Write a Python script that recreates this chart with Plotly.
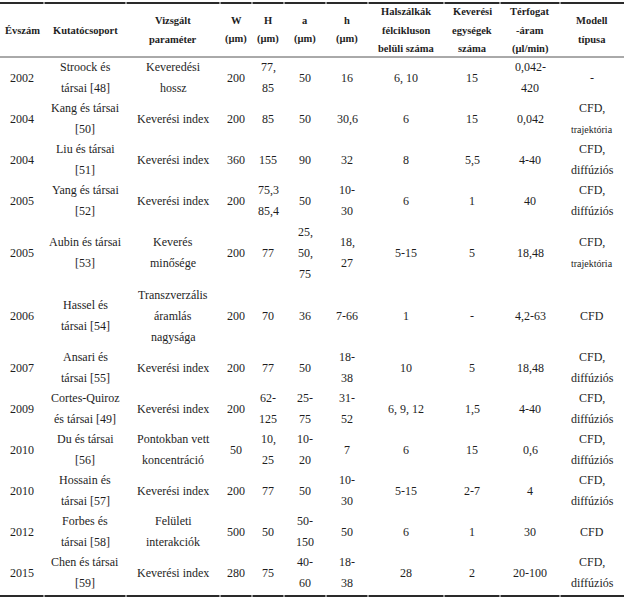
import plotly.graph_objects as go

# table content
headers = ["Évszám", "Kutatócsoport", "Vizsgált\nparaméter", "W\n(µm)", "H\n(µm)", "a\n(µm)", "h\n(µm)",
           "Halszálkák\nfélcikluson\nbelüli száma", "Keverési\negységek\nszáma", "Térfogat\n-áram\n(µl/min)",
           "Modell\ntípusa"]
years = ["2002", "2004", "2004", "2005", "2005", "2006", "2007", "2009", "2010", "2010", "2012", "2015"]
groups = ["Stroock és\ntársai [48]", "Kang és társai\n[50]", "Liu és társai\n[51]", "Yang és társai\n[52]",
          "Aubin és társai\n[53]", "Hassel és\ntársai [54]", "Ansari és\ntársai [55]", "Cortes-Quiroz\nés társai [49]",
          "Du és társai\n[56]", "Hossain és\ntársai [57]", "Forbes és\ntársai [58]", "Chen és társai\n[59]"]
params = ["Keveredési\nhossz", "Keverési index", "Keverési index", "Keverési index", "Keverés\nminősége",
          "Transzverzális\náramlás\nnagysága", "Keverési index", "Keverési index", "Pontokban vett\nkoncentráció",
          "Keverési index", "Felületi\ninterakciók", "Keverési index"]
w_vals = ["200", "200", "360", "200", "200", "200", "200", "200", "50", "200", "500", "280"]
h_big = ["77,\n85", "85", "155", "75,3\n85,4", "77", "70", "77", "62-\n125", "10,\n25", "77", "50", "75"]
a_vals = ["50", "50", "90", "50", "25,\n50,\n75", "36", "50", "25-\n75", "10-\n20", "50", "50-\n150", "40-\n60"]
h_small = ["16", "30,6", "32", "10-\n30", "18,\n27", "7-66", "18-\n38", "31-\n52", "7", "10-\n30", "50", "18-\n38"]
herringbones = ["6, 10", "6", "8", "6", "5-15", "1", "10", "6, 9, 12", "6", "5-15", "6", "28"]
mixing_units = ["15", "15", "5,5", "1", "5", "-", "5", "1,5", "15", "2-7", "1", "2"]
flow_rate = ["0,042-\n420", "0,042", "4-40", "40", "18,48", "4,2-63", "18,48", "4-40", "0,6", "4", "30", "20-100"]
model = ["-", "CFD,\ntrajektória", "CFD,\ndiffúziós", "CFD,\ndiffúziós", "CFD,\ntrajektória", "CFD",
         "CFD,\ndiffúziós", "CFD,\ndiffúziós", "CFD,\ndiffúziós", "CFD,\ndiffúziós", "CFD", "CFD,\ndiffúziós"]

columns = [years, groups, params, w_vals, h_big, a_vals, h_small, herringbones, mixing_units, flow_rate, model]

# layout of the table (pixels)
col_edges = [0, 44, 126, 220, 252, 284, 326, 368, 444, 500, 560, 624]
header_top, header_bottom = 3, 57
row_height = {1: 41, 2: 41, 3: 63}
line_gap = 21
header_gap = 18.5
serif = "Liberation Serif, Times New Roman, serif"
ink = "#1e1e1e"

fig = go.Figure()
annotations = []

def add_cell(text, cx, cy, gap, size, bold=False):
    lines = text.split("\n")
    n = len(lines)
    for i, ln in enumerate(lines):
        small = ln == "trajektória"
        annotations.append(dict(
            x=cx, y=cy + (i - (n - 1) / 2) * gap, xref="x", yref="y",
            text="<b>%s</b>" % ln if bold else ln, showarrow=False,
            xanchor="center", yanchor="middle",
            font=dict(family=serif, size=10 if small else size, color=ink)))

centers = [(col_edges[i] + col_edges[i + 1]) / 2 for i in range(len(col_edges) - 1)]

hy = (header_top + header_bottom) / 2
for c, txt in enumerate(headers):
    add_cell(txt, centers[c], hy, header_gap, 10.5, bold=True)

y = header_bottom
for r in range(len(years)):
    nlines = max(len(col[r].split("\n")) for col in columns)
    hgt = row_height[nlines]
    cy = y + hgt / 2
    for c, col in enumerate(columns):
        add_cell(col[r], centers[c], cy, line_gap, 12)
    y += hgt

bottom = y + 3

shapes = []
for i in range(len(col_edges) - 1):
    x0 = col_edges[i] + (0.5 if i > 0 else 0)
    x1 = col_edges[i + 1] - (0.5 if i < len(col_edges) - 2 else 0)
    shapes.append(dict(type="line", xref="x", yref="y", x0=x0, x1=x1, y0=header_top, y1=header_top,
                       line=dict(color="#2a2a2a", width=2)))
    shapes.append(dict(type="line", xref="x", yref="y", x0=x0, x1=x1, y0=bottom, y1=bottom,
                       line=dict(color="#2a2a2a", width=2)))
shapes.append(dict(type="line", xref="x", yref="y", x0=0, x1=624, y0=header_bottom, y1=header_bottom,
                   line=dict(color="#555555", width=1)))

fig.update_layout(
    width=624, height=599,
    margin=dict(l=0, r=0, t=0, b=0),
    paper_bgcolor="white", plot_bgcolor="white",
    xaxis=dict(range=[0, 624], visible=False, fixedrange=True),
    yaxis=dict(range=[599, 0], visible=False, fixedrange=True),
    annotations=annotations, shapes=shapes,
    showlegend=False,
)

# page body has a default 8px margin; drop it so the table fills the window
fig.write_html("out.html", config={"displayModeBar": False},
               post_script="document.body.style.margin='0';document.body.style.overflow='hidden';")
